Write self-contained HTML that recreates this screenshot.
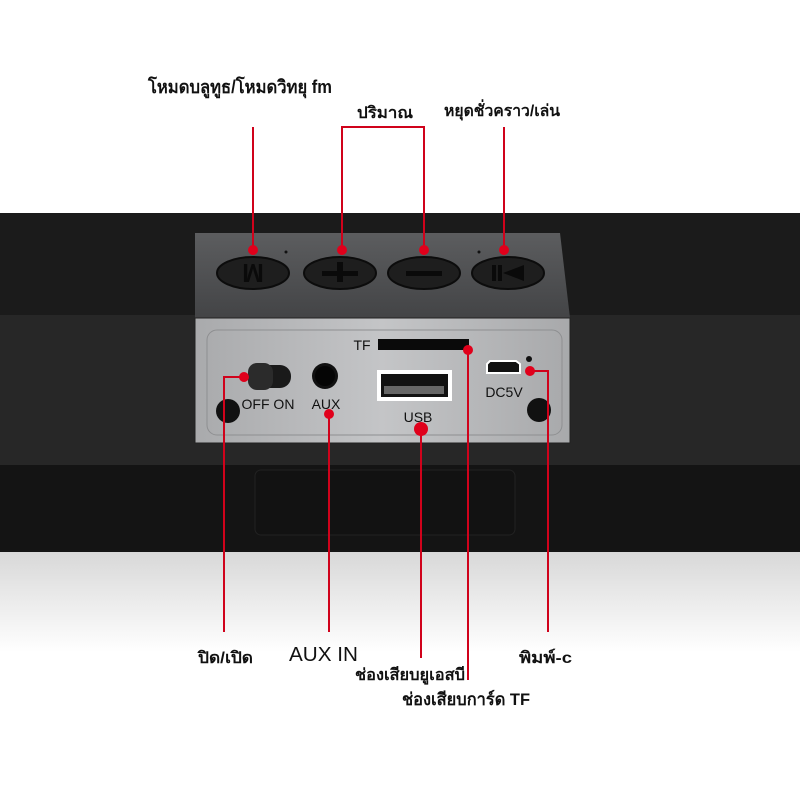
<!DOCTYPE html>
<html><head><meta charset="utf-8"><style>html,body{margin:0;padding:0;background:#fff}svg{display:block}
.t{font-family:"Liberation Sans","Noto Sans CJK SC",sans-serif;font-weight:bold;fill:#111}</style></head><body>
<svg width="800" height="800" viewBox="0 0 800 800" xmlns="http://www.w3.org/2000/svg">
<defs>
<linearGradient id="fl" x1="0" y1="0" x2="0" y2="1"><stop offset="0" stop-color="#d8d8d8"/><stop offset="1" stop-color="#fff"/></linearGradient>
<linearGradient id="tp" x1="0" y1="0" x2="0" y2="1"><stop offset="0" stop-color="#5c5d5f"/><stop offset="1" stop-color="#434446"/></linearGradient>
<linearGradient id="fp" x1="0" y1="0" x2="1" y2="0"><stop offset="0" stop-color="#a9aaac"/><stop offset=".5" stop-color="#c4c5c7"/><stop offset="1" stop-color="#a8a9ab"/></linearGradient>
</defs>
<rect x="0" y="552" width="800" height="100" fill="url(#fl)"/>
<rect x="0" y="213" width="800" height="339" fill="#1b1b1b"/>
<rect x="0" y="315" width="800" height="150" fill="#272727"/>
<rect x="0" y="465" width="800" height="87" fill="#141414"/>
<rect x="255" y="470" width="260" height="65" rx="6" fill="#121212" stroke="#222" />
<polygon points="195,233 560,233 570,318 195,318" fill="url(#tp)"/>
<rect x="195" y="318" width="375" height="125" fill="url(#fp)" stroke="#222"/>
<rect x="207" y="330" width="355" height="105" rx="10" fill="none" stroke="#8e8f91"/>
<g fill="#1e1e1e" stroke="#0c0c0c" stroke-width="2">
<ellipse cx="253" cy="273" rx="36" ry="16"/><ellipse cx="340" cy="273" rx="36" ry="16"/>
<ellipse cx="424" cy="273" rx="36" ry="16"/><ellipse cx="508" cy="273" rx="36" ry="16"/></g>
<g fill="#0a0a0a"><text x="253" y="282" font-family="Liberation Sans" font-weight="bold" font-size="26" text-anchor="middle" transform="rotate(180 253 273)">M</text>
<rect x="322" y="271" width="36" height="5"/><rect x="337" y="262" width="6" height="20"/>
<rect x="406" y="271" width="36" height="5"/>
<rect x="492" y="265" width="4" height="16"/><rect x="498" y="265" width="4" height="16"/><polygon points="503,273 524,265 524,281"/></g>
<circle cx="286" cy="252" r="1.5" fill="#111"/><circle cx="479" cy="252" r="1.5" fill="#111"/>
<rect x="248" y="365" width="43" height="23" rx="11" fill="#1a1a1a"/><rect x="248" y="363" width="25" height="27" rx="9" fill="#2b2b2b"/>
<text x="268" y="409" font-family="Liberation Sans" font-size="14" fill="#111" text-anchor="middle">OFF ON</text>
<circle cx="325" cy="376" r="13" fill="#111"/><circle cx="325" cy="376" r="10" fill="#050505"/>
<text x="326" y="409" font-family="Liberation Sans" font-size="14" fill="#111" text-anchor="middle">AUX</text>
<rect x="377" y="370" width="75" height="31" fill="#fff"/><rect x="381" y="374" width="67" height="23" fill="#111"/><rect x="384" y="386" width="60" height="8" fill="#666"/>
<text x="418" y="422" font-family="Liberation Sans" font-size="14" fill="#111" text-anchor="middle">USB</text>
<text x="362" y="350" font-family="Liberation Sans" font-size="14" fill="#111" text-anchor="middle">TF</text>
<rect x="378" y="339" width="91" height="11" fill="#0a0a0a"/>
<path d="M487,373 L487,364 L490,361 L516,361 L520,364 L520,373 Z" fill="#111" stroke="#fff" stroke-width="2"/>
<circle cx="529" cy="359" r="3" fill="#111"/>
<text x="504" y="397" font-family="Liberation Sans" font-size="14" fill="#111" text-anchor="middle">DC5V</text>
<ellipse cx="228" cy="411" rx="12" ry="12" fill="#111"/><ellipse cx="539" cy="410" rx="12" ry="12" fill="#111"/>
<g stroke="#d0021b" stroke-width="2" fill="none">
<line x1="253" y1="127" x2="253" y2="250"/>
<polyline points="342,250 342,127 424,127 424,250"/>
<line x1="504" y1="127" x2="504" y2="250"/>
<polyline points="244,377 224,377 224,632"/>
<line x1="329" y1="413" x2="329" y2="632"/>
<line x1="421" y1="430" x2="421" y2="658"/>
<line x1="468" y1="350" x2="468" y2="680"/>
<polyline points="530,371 548,371 548,632"/>
</g>
<g fill="#e0001b"><circle cx="253" cy="250" r="5"/><circle cx="342" cy="250" r="5"/><circle cx="424" cy="250" r="5"/><circle cx="504" cy="250" r="5"/>
<circle cx="244" cy="377" r="5"/><circle cx="329" cy="414" r="5"/><circle cx="421" cy="429" r="7"/><circle cx="468" cy="350" r="5"/><circle cx="530" cy="371" r="5"/></g>
<text class="t" x="148" y="93" font-size="18" textLength="184" lengthAdjust="spacingAndGlyphs">โหมดบลูทูธ/โหมดวิทยุ fm</text>
<text class="t" x="357" y="118" font-size="16" textLength="56" lengthAdjust="spacingAndGlyphs">ปริมาณ</text>
<text class="t" x="444" y="116" font-size="16" textLength="116" lengthAdjust="spacingAndGlyphs">หยุดชั่วคราว/เล่น</text>
<text class="t" x="198" y="663" font-size="16" textLength="55" lengthAdjust="spacingAndGlyphs">ปิด/เปิด</text>
<text x="289" y="661" font-family="Liberation Sans" font-size="20" fill="#111" textLength="69" lengthAdjust="spacingAndGlyphs">AUX IN</text>
<text class="t" x="355" y="680" font-size="16" textLength="110" lengthAdjust="spacingAndGlyphs">ช่องเสียบยูเอสบี</text>
<text class="t" x="402" y="705" font-size="17" textLength="128" lengthAdjust="spacingAndGlyphs">ช่องเสียบการ์ด TF</text>
<text class="t" x="519" y="663" font-size="16" textLength="53" lengthAdjust="spacingAndGlyphs">พิมพ์-c</text>
</svg>
</body></html>
